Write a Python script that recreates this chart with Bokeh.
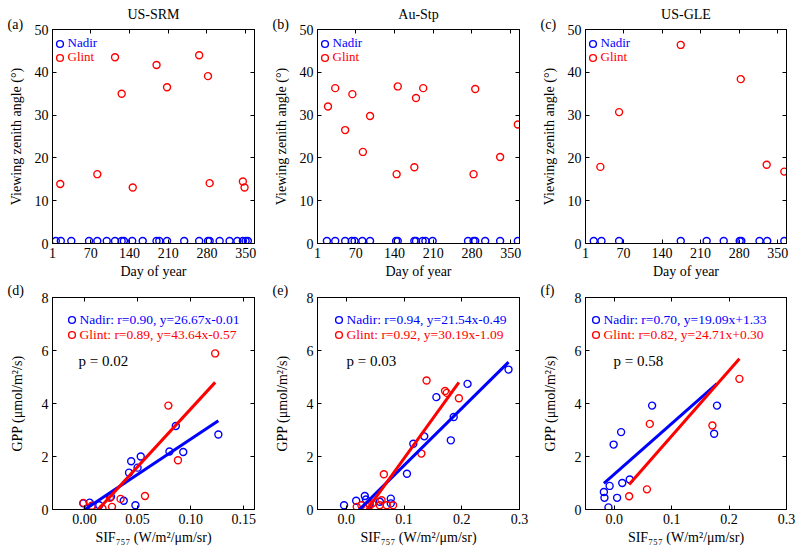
from bokeh.plotting import figure
from bokeh.models import Legend, LegendItem, Label, FixedTicker, Range1d, NumeralTickFormatter, LinearAxis, Title
from bokeh.layouts import column, row
from bokeh.embed import file_html
from bokeh.resources import INLINE

FONT = "Liberation Serif"
BLUE = "#0000ff"
RED = "#ff0000"

# ---------------- data: viewing zenith angle vs day of year ----------------
sites = ["US-SRM", "Au-Stp", "US-GLE"]
letters_top = ["(a)", "(b)", "(c)"]
letters_bot = ["(d)", "(e)", "(f)"]
doy_ticks = [1, 70, 140, 210, 280, 350]

srm_nadir_doy = [7, 16, 35, 67, 82, 99, 114, 126, 130, 145, 164, 189, 194, 208, 239, 266, 282, 285, 303, 321, 335, 345, 350, 354]
srm_nadir_vza = [0.6, 0.6, 0.6, 0.6, 0.6, 0.6, 0.6, 0.6, 0.6, 0.6, 0.6, 0.6, 0.6, 0.6, 0.6, 0.6, 0.6, 0.6, 0.6, 0.6, 0.6, 0.6, 0.6, 0.6]
srm_glint_doy = [15, 82, 114, 126, 146, 189, 208, 266, 282, 285, 345, 348]
srm_glint_vza = [13.9, 16.2, 43.5, 35.0, 13.1, 41.7, 36.5, 44.0, 39.1, 14.1, 14.5, 13.1]

stp_nadir_doy = [18, 33, 51, 63, 68, 82, 96, 143, 146, 176, 179, 191, 196, 209, 273, 283, 286, 304, 331, 363]
stp_nadir_vza = [0.6, 0.6, 0.6, 0.6, 0.6, 0.6, 0.6, 0.6, 0.6, 0.6, 0.6, 0.6, 0.6, 0.6, 0.6, 0.6, 0.6, 0.6, 0.6, 0.6]
stp_glint_doy = [20, 33, 51, 64, 83, 96, 144, 146, 176, 179, 192, 283, 286, 331, 363]
stp_glint_vza = [32.0, 36.3, 26.5, 34.9, 21.4, 29.8, 16.2, 36.7, 17.8, 34.0, 36.3, 16.2, 36.1, 20.2, 27.8]

gle_nadir_doy = [16, 30, 62, 174, 221, 252, 281, 284, 317, 331, 362]
gle_nadir_vza = [0.6, 0.6, 0.6, 0.6, 0.6, 0.6, 0.6, 0.6, 0.6, 0.6, 0.6]
gle_glint_doy = [28, 62, 174, 283, 330, 362]
gle_glint_vza = [17.9, 30.7, 46.4, 38.4, 18.4, 16.8]

# ---------------- data: GPP vs SIF757 ----------------
srm_nadir_sif = [-0.001, 0.005, 0.007, 0.014, 0.025, 0.037, 0.042, 0.044, 0.050, 0.053, 0.048, 0.086, 0.080, 0.093, 0.126]
srm_nadir_gpp = [0.23, 0.26, 0.10, 0.16, 0.48, 0.33, 1.39, 1.82, 1.58, 2.00, 0.16, 3.15, 2.19, 2.17, 2.83]
srm_glint_sif = [-0.001, 0.007, 0.017, 0.024, 0.026, 0.034, 0.057, 0.079, 0.088, 0.123]
srm_glint_gpp = [0.25, 0.14, 0.04, 0.44, 0.10, 0.40, 0.51, 3.92, 1.86, 5.89]

stp_nadir_sif = [-0.004, 0.017, 0.032, 0.034, 0.040, 0.058, 0.077, 0.077, 0.105, 0.116, 0.135, 0.156, 0.181, 0.186, 0.210, 0.281]
stp_nadir_gpp = [0.16, 0.33, 0.51, 0.38, 0.20, 0.29, 0.41, 0.23, 1.35, 2.48, 2.76, 4.24, 2.61, 3.49, 4.74, 5.28]
stp_glint_sif = [0.018, 0.026, 0.041, 0.045, 0.058, 0.061, 0.065, 0.070, 0.081, 0.130, 0.139, 0.171, 0.174, 0.195]
stp_glint_gpp = [0.10, 0.16, 0.16, 0.23, 0.16, 0.35, 1.33, 0.16, 0.16, 2.11, 4.87, 4.47, 4.40, 4.20]

gle_nadir_sif = [-0.010, -0.018, -0.017, -0.008, 0.005, 0.014, 0.027, -0.001, 0.012, 0.066, 0.174, 0.179]
gle_nadir_gpp = [0.08, 0.66, 0.44, 0.89, 0.44, 1.00, 1.13, 2.45, 2.92, 3.92, 2.86, 3.92]
gle_glint_sif = [0.026, 0.057, 0.062, 0.171, 0.218]
gle_glint_gpp = [0.50, 0.76, 3.23, 3.17, 4.93]

# regression fits (as printed in legends)
nadir_slope = [26.67, 21.54, 19.09]
nadir_icpt = [-0.01, -0.49, 1.33]
glint_slope = [43.64, 30.19, 24.71]
glint_icpt = [-0.57, -1.09, 0.30]
nadir_labels = ["Nadir: r=0.90, y=26.67x-0.01", "Nadir: r=0.94, y=21.54x-0.49", "Nadir: r=0.70, y=19.09x+1.33"]
glint_labels = ["Glint: r=0.89, y=43.64x-0.57", "Glint: r=0.92, y=30.19x-1.09", "Glint: r=0.82, y=24.71x+0.30"]
p_values = ["p = 0.02", "p = 0.03", "p = 0.58"]

sif_ranges = [(-0.03, 0.16), (-0.05, 0.3), (-0.05, 0.3)]
sif_ticks = [[0.0, 0.05, 0.10, 0.15], [0.0, 0.1, 0.2, 0.3], [0.0, 0.1, 0.2, 0.3]]
sif_formats = ["0.00", "0.0", "0.0"]
gpp_ticks = [0, 2, 4, 6, 8]
vza_ticks = [0, 10, 20, 30, 40, 50]

top_data = [
    (srm_nadir_doy, srm_nadir_vza, srm_glint_doy, srm_glint_vza),
    (stp_nadir_doy, stp_nadir_vza, stp_glint_doy, stp_glint_vza),
    (gle_nadir_doy, gle_nadir_vza, gle_glint_doy, gle_glint_vza),
]
bot_data = [
    (srm_nadir_sif, srm_nadir_gpp, srm_glint_sif, srm_glint_gpp),
    (stp_nadir_sif, stp_nadir_gpp, stp_glint_sif, stp_glint_gpp),
    (gle_nadir_sif, gle_nadir_gpp, gle_glint_sif, gle_glint_gpp),
]

# ---------------- layout geometry ----------------
widths = [270, 265, 262]
b_left = [52, 47, 50]
b_right = [16, 16, 11]
TOP_H, TOP_BT, TOP_BB = 281, 29, 35
BOT_H, BOT_BT, BOT_BB = 266, 16, 38
top_frame_h = TOP_H - TOP_BT - TOP_BB
bot_frame_h = BOT_H - BOT_BT - BOT_BB
bot_leg_x = [10.5, 12.5, 1.5]
p_x = [26, 29, 28]


def style(p, ylab, xlab, ylab_standoff, xticks, yticks):
    p.xgrid.visible = False
    p.ygrid.visible = False
    p.outline_line_color = "black"
    p.outline_line_alpha = 1
    p.outline_line_width = 1
    p.background_fill_color = "white"
    p.border_fill_color = "white"
    # mirrored tick marks on the right and top edges (box on)
    p.add_layout(LinearAxis(ticker=FixedTicker(ticks=yticks)), "right")
    p.add_layout(LinearAxis(ticker=FixedTicker(ticks=xticks)), "above")
    for ax in p.xaxis + p.yaxis:
        ax.major_tick_in = 4
        ax.major_tick_out = 0
        ax.minor_tick_line_color = None
        ax.axis_line_color = "black"
        ax.major_tick_line_color = "black"
        ax.major_label_text_font = FONT
        ax.major_label_text_font_size = "14px"
        ax.major_label_text_color = "black"
        ax.major_label_standoff = 4
        ax.axis_label_text_font = FONT
        ax.axis_label_text_font_size = "14px"
        ax.axis_label_text_font_style = "normal"
        ax.axis_label_text_color = "black"
    p.below[0].ticker = FixedTicker(ticks=xticks)
    p.left[0].ticker = FixedTicker(ticks=yticks)
    for ax in (p.right[0], p.above[0]):
        ax.major_label_text_font_size = "0px"
        ax.major_label_standoff = 0
        ax.major_label_text_alpha = 0
    p.below[0].axis_label = xlab
    p.left[0].axis_label = ylab
    p.below[0].axis_label_standoff = 3
    p.left[0].axis_label_standoff = ylab_standoff


def legend(p, renderer, label, color, vx, vy, size):
    lg = Legend(items=[LegendItem(label=label, renderers=[renderer])],
                location=(vx, vy), border_line_color=None, background_fill_alpha=0,
                padding=0, margin=0, spacing=0, glyph_width=17, glyph_height=17,
                label_height=10, label_standoff=0, label_text_font=FONT,
                label_text_font_size=size, label_text_color=color)
    p.add_layout(lg)


def title(p, text, align, offset, standoff):
    t = Title(text=text, align=align, vertical_align="middle", text_font=FONT,
              text_font_size="14px", text_font_style="normal", text_color="black")
    try:
        t.offset = offset
    except ValueError:
        t.offset = 0
    try:
        t.standoff = standoff
    except ValueError:
        t.standoff = 0
    p.add_layout(t, "above")


top_figs = []
for i in range(3):
    nd, nv, gd, gv = top_data[i]
    p = figure(width=widths[i], height=TOP_H, x_range=Range1d(1, 366), y_range=Range1d(0, 50),
               output_backend="svg", toolbar_location=None, title=None,
               min_border_left=b_left[i], min_border_right=b_right[i],
               min_border_top=TOP_BT, min_border_bottom=TOP_BB)
    style(p, "Viewing zenith angle (°)", "Day of year", 8, doy_ticks, vza_ticks)
    rn = p.scatter(nd, nv, marker="circle", size=7, fill_color=None, line_color=BLUE, line_width=1.4)
    rg = p.scatter(gd, gv, marker="circle", size=7, fill_color=None, line_color=RED, line_width=1.4)
    legend(p, rn, "Nadir", BLUE, -1.5, top_frame_h - 25.5, "13px")
    legend(p, rg, "Glint", RED, -1.5, top_frame_h - 39.5, "13px")
    title(p, letters_top[i], "left", -45, -6)
    title(p, sites[i], "center", 0, -8)
    top_figs.append(p)

bot_figs = []
for i in range(3):
    nx, ny, gx, gy = bot_data[i]
    p = figure(width=widths[i], height=BOT_H, x_range=Range1d(*sif_ranges[i]), y_range=Range1d(0, 8),
               output_backend="svg", toolbar_location=None, title=None,
               min_border_left=b_left[i], min_border_right=b_right[i],
               min_border_top=BOT_BT, min_border_bottom=BOT_BB)
    style(p, "GPP (μmol/m²/s)", "SIF₇₅₇ (W/m²/μm/sr)", 14, sif_ticks[i], gpp_ticks)
    p.below[0].formatter = NumeralTickFormatter(format=sif_formats[i])
    rn = p.scatter(nx, ny, marker="circle", size=7, fill_color=None, line_color=BLUE, line_width=1.4)
    rg = p.scatter(gx, gy, marker="circle", size=7, fill_color=None, line_color=RED, line_width=1.4)
    nxl = [min(nx), max(nx)]
    gxl = [min(gx), max(gx)]
    p.line(nxl, [nadir_slope[i] * v + nadir_icpt[i] for v in nxl], line_color=BLUE, line_width=3)
    p.line(gxl, [glint_slope[i] * v + glint_icpt[i] for v in gxl], line_color=RED, line_width=3)
    legend(p, rn, nadir_labels[i], BLUE, bot_leg_x[i], bot_frame_h - 31.3, "13.5px")
    legend(p, rg, glint_labels[i], RED, bot_leg_x[i], bot_frame_h - 46.3, "13.5px")
    p.add_layout(Label(x=p_x[i], y=bot_frame_h - 63, x_units="screen", y_units="screen",
                       text=p_values[i], text_font=FONT, text_font_size="15px", text_align="left",
                       text_baseline="middle", text_color="black"))
    title(p, letters_bot[i], "left", -45, -3)
    bot_figs.append(p)

layout = column(row(*top_figs), row(*bot_figs))
open("out.html", "w").write(file_html(layout, INLINE))
